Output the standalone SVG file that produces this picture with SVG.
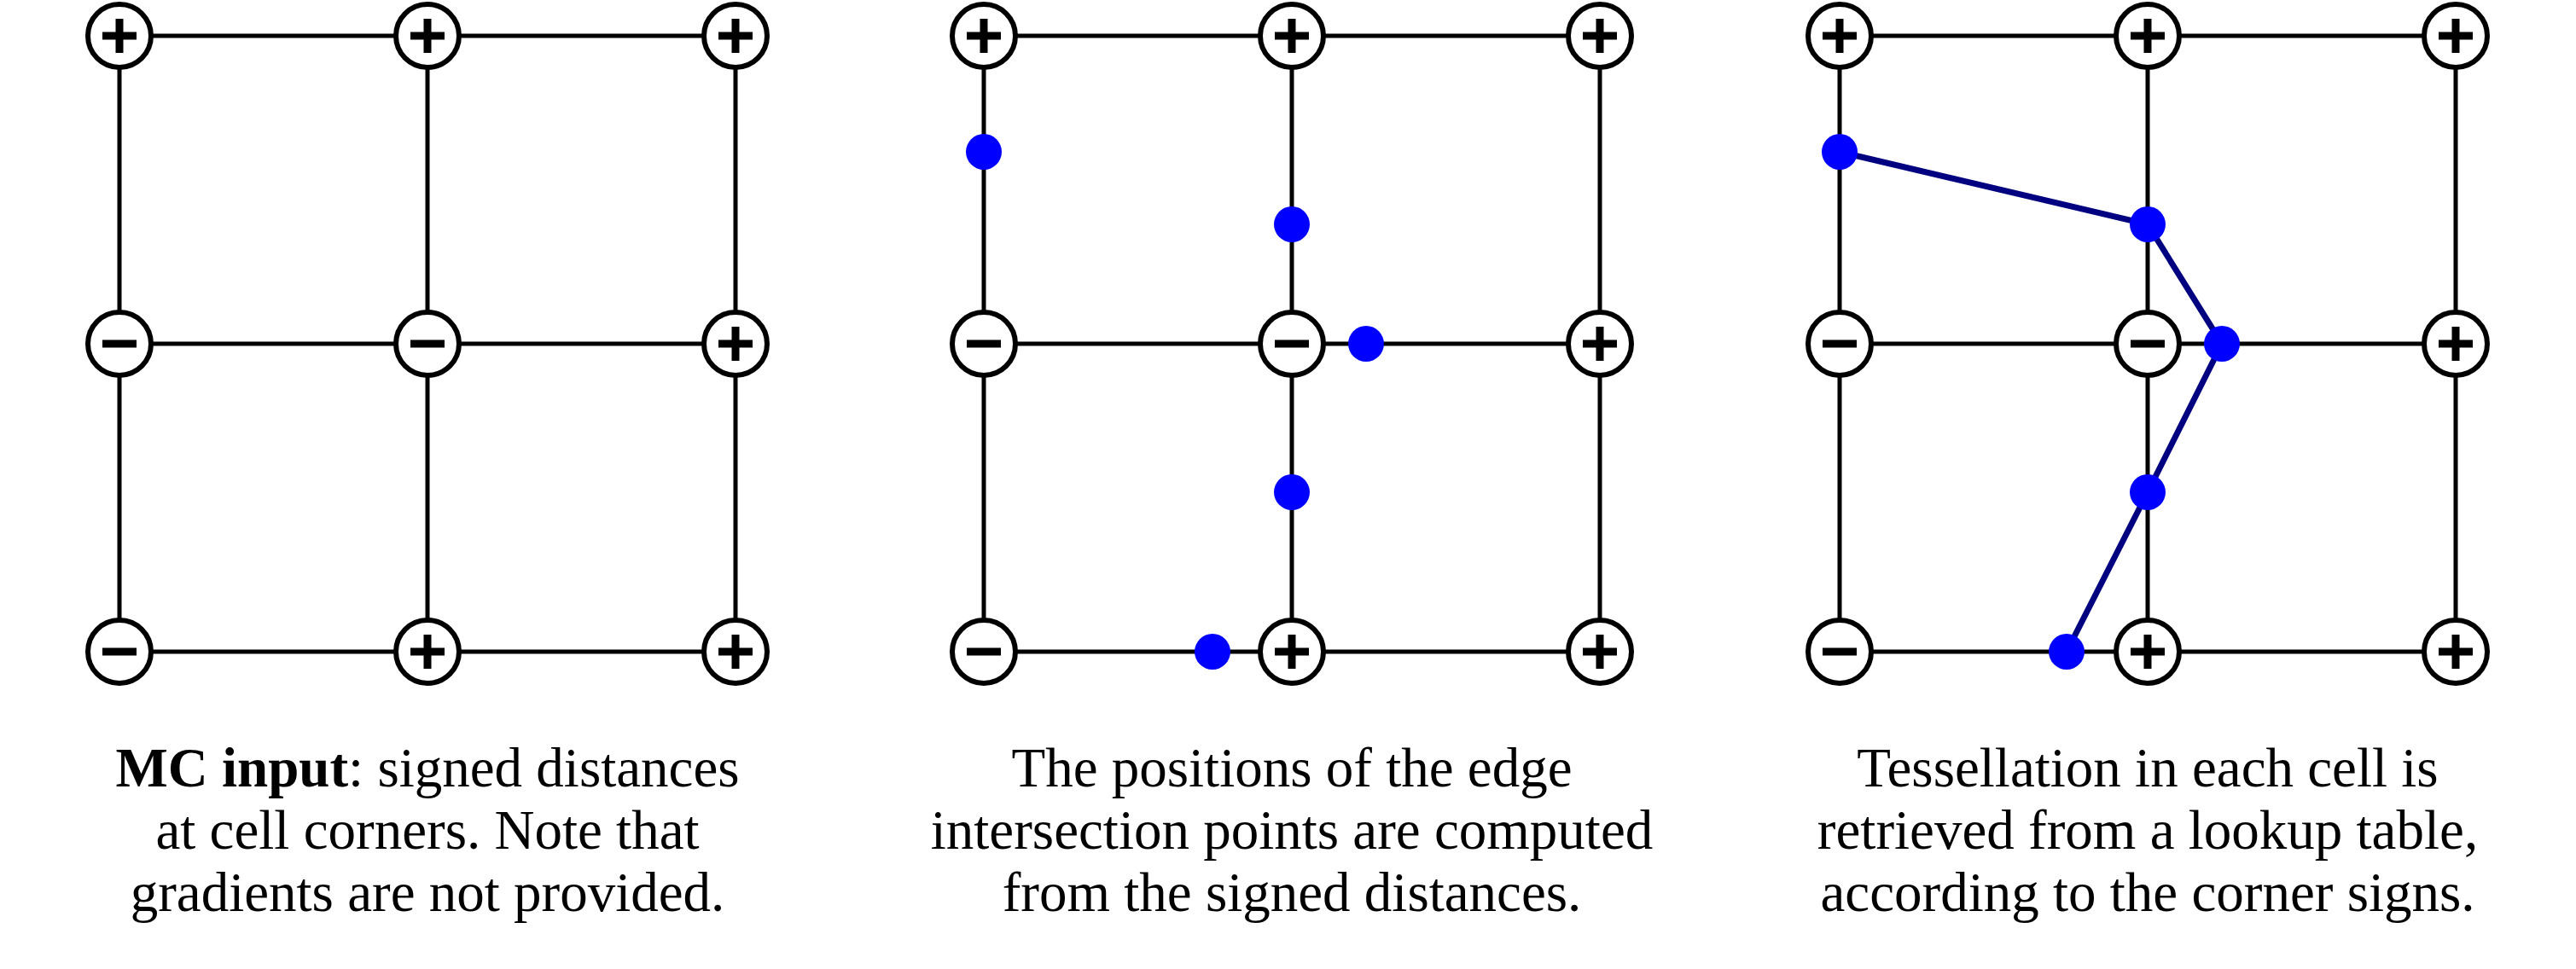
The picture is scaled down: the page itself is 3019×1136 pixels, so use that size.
<svg xmlns="http://www.w3.org/2000/svg" width="3019" height="1136" viewBox="0 0 3019 1136">
<style>
.g{stroke:#000;stroke-width:5;fill:none}
.c{fill:#fff;stroke:#000;stroke-width:6}
.s{stroke:#000;stroke-width:9;fill:none}
.d{fill:#0000ff}
.t{stroke:#000080;stroke-width:7;fill:none}
text{font-family:"Liberation Serif",serif;font-size:65px;text-anchor:middle;fill:#000}
</style>
<defs>
<g id="plus"><circle class="c" r="37"/><path class="s" d="M-20 0H20M0-20V20"/></g>
<g id="minus"><circle class="c" r="37"/><path class="s" d="M-20 0H20"/></g>
<path id="grid" d="M0 42H722M0 403H722M0 764H722M0 42V764M361 42V764M722 42V764"/>
</defs>
<g id="connectors">
<use href="#grid" class="g" x="140"/>
<use href="#grid" class="g" x="1153"/>
<use href="#grid" class="g" x="2156"/>
<polyline class="t" points="2156,178 2517,263 2604,403 2517,577 2422,764"/>
</g>
<g id="panel1">
<use href="#plus" x="140" y="42"/><use href="#plus" x="501" y="42"/><use href="#plus" x="862" y="42"/>
<use href="#minus" x="140" y="403"/><use href="#minus" x="501" y="403"/><use href="#plus" x="862" y="403"/>
<use href="#minus" x="140" y="764"/><use href="#plus" x="501" y="764"/><use href="#plus" x="862" y="764"/>
</g>
<g id="panel2">
<use href="#plus" x="1153" y="42"/><use href="#plus" x="1514" y="42"/><use href="#plus" x="1875" y="42"/>
<use href="#minus" x="1153" y="403"/><use href="#minus" x="1514" y="403"/><use href="#plus" x="1875" y="403"/>
<use href="#minus" x="1153" y="764"/><use href="#plus" x="1514" y="764"/><use href="#plus" x="1875" y="764"/>
</g>
<g id="panel3">
<use href="#plus" x="2156" y="42"/><use href="#plus" x="2517" y="42"/><use href="#plus" x="2878" y="42"/>
<use href="#minus" x="2156" y="403"/><use href="#minus" x="2517" y="403"/><use href="#plus" x="2878" y="403"/>
<use href="#minus" x="2156" y="764"/><use href="#plus" x="2517" y="764"/><use href="#plus" x="2878" y="764"/>
</g>
<g id="points2">
<circle class="d" cx="1153" cy="178" r="21"/><circle class="d" cx="1514" cy="263" r="21"/><circle class="d" cx="1601" cy="403" r="21"/><circle class="d" cx="1514" cy="577" r="21"/><circle class="d" cx="1421" cy="764" r="21"/>
</g>
<g id="points3">
<circle class="d" cx="2156" cy="178" r="21"/><circle class="d" cx="2517" cy="263" r="21"/><circle class="d" cx="2604" cy="403" r="21"/><circle class="d" cx="2517" cy="577" r="21"/><circle class="d" cx="2422" cy="764" r="21"/>
</g>
<g id="caption1">
<text x="501" y="922"><tspan font-weight="bold">MC input</tspan>: signed distances</text>
<text x="501" y="995">at cell corners. Note that</text>
<text x="501" y="1068">gradients are not provided.</text>
</g>
<g id="caption2">
<text x="1514" y="922">The positions of the edge</text>
<text x="1514" y="995">intersection points are computed</text>
<text x="1514" y="1068">from the signed distances.</text>
</g>
<g id="caption3">
<text x="2517" y="922">Tessellation in each cell is</text>
<text x="2517" y="995">retrieved from a lookup table,</text>
<text x="2517" y="1068">according to the corner signs.</text>
</g>
</svg>
